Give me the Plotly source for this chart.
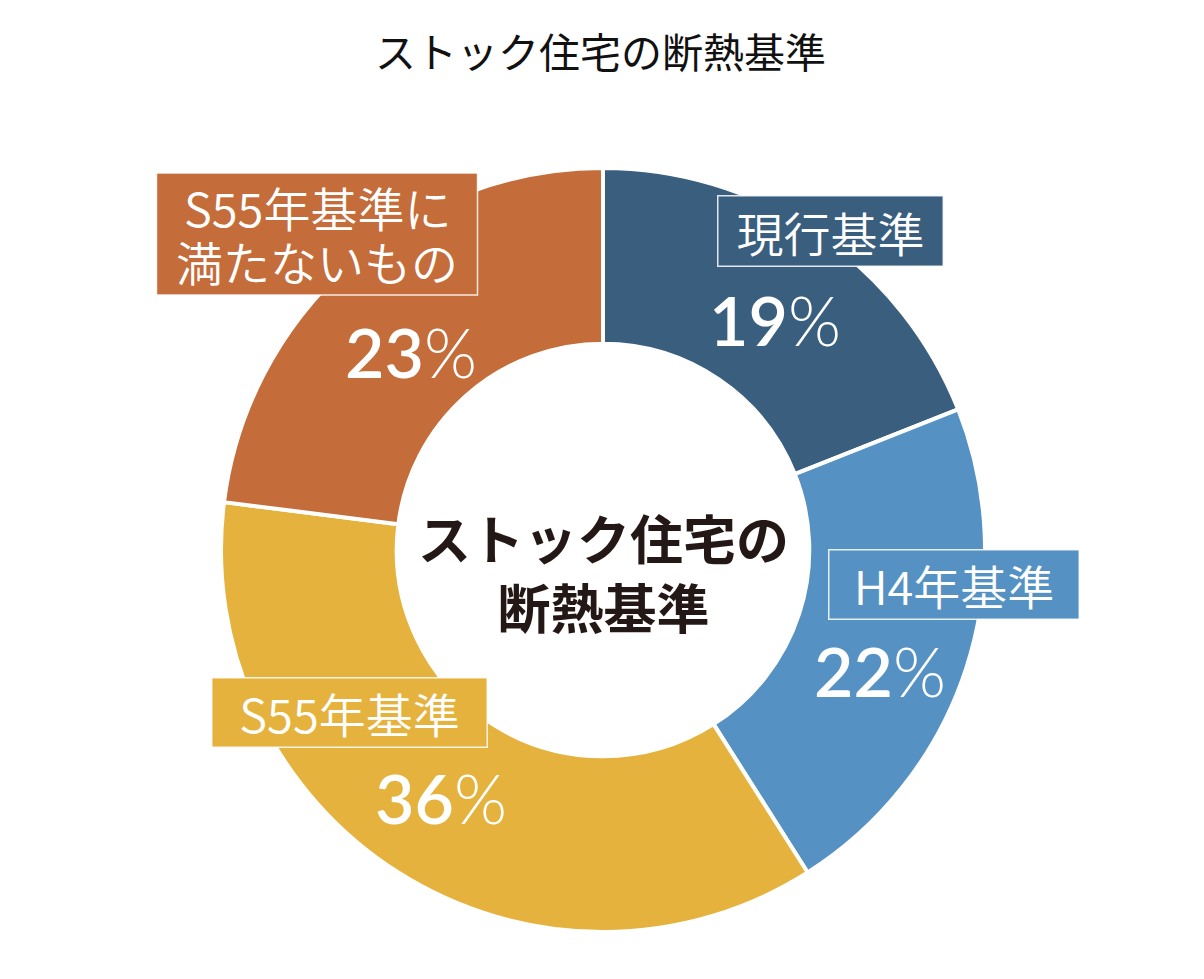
import plotly.graph_objects as go

categories = ["現行基準", "H4年基準", "S55年基準", "S55年基準に<br>満たないもの"]
values = [19, 22, 36, 23]
colors = ["#395e7e", "#5592c3", "#e5b33d", "#c46c3a"]
title_text = "ストック住宅の断熱基準"
center_text = "ストック住宅の<br>断熱基準"

W, H = 1204, 979
OFF = 8  # page body margin offset


def fx(x):
    return (x - OFF) / W


def fy(y):
    return 1 - (y - OFF) / H


cx, cy, R = 603, 550, 382

fig = go.Figure(go.Pie(
    values=values,
    labels=[c.replace("<br>", "") for c in categories],
    sort=False,
    direction="clockwise",
    rotation=0,
    hole=0.54,
    marker=dict(colors=colors, line=dict(color="white", width=4)),
    textinfo="none",
    hoverinfo="label+percent",
    showlegend=False,
    domain=dict(x=[fx(cx - R), fx(cx + R)], y=[fy(cy + R), fy(cy - R)]),
))

# label box placement (pixel centers) and box sizes
box_pos = [(830, 231, 224, 69), (954, 584, 249, 68), (350, 712, 274, 68), (317, 234, 321, 122)]
pct_pos = [(775, 319), (880, 670), (441, 797), (411, 352)]
line_gap = 54

ann = []
shapes = []
for cat, v, col, (bx, by, bw, bh), (px, py) in zip(categories, values, colors, box_pos, pct_pos):
    lines = cat.split("<br>")
    box_font = dict(family="Noto Sans CJK JP", size=47, color="white", weight=350)
    if len(lines) == 1:
        ann.append(dict(
            x=fx(bx), y=fy(by), xref="paper", yref="paper", xanchor="center", yanchor="middle",
            text=lines[0], showarrow=False, bgcolor=col,
            bordercolor="rgba(255,255,255,0.85)", borderwidth=1.5,
            borderpad=0, width=bw, height=bh, align="center", font=box_font,
        ))
    else:
        shapes.append(dict(
            type="rect", xref="paper", yref="paper", layer="above",
            x0=fx(bx - bw / 2), x1=fx(bx + bw / 2), y0=fy(by + bh / 2), y1=fy(by - bh / 2),
            fillcolor=col, line=dict(color="rgba(255,255,255,0.85)", width=1.5),
        ))
        n = len(lines)
        for i, ln in enumerate(lines):
            ly = by + (i - (n - 1) / 2) * line_gap
            ann.append(dict(
                x=fx(bx), y=fy(ly), xref="paper", yref="paper", xanchor="center", yanchor="middle",
                text=ln, showarrow=False, font=box_font,
            ))
    ann.append(dict(
        x=fx(px), y=fy(py), xref="paper", yref="paper", xanchor="center", yanchor="middle",
        text=f'{v}<span style="font-weight:300">%</span>', showarrow=False,
        font=dict(family="Lato", size=68, color="white", weight=600),
    ))

ann.append(dict(
    x=fx(cx), y=fy(571), xref="paper", yref="paper", xanchor="center", yanchor="middle",
    text=f"<b>{center_text}</b>", showarrow=False, align="center",
    font=dict(family="Noto Sans CJK JP", size=53, color="#231815"),
))
ann.append(dict(
    x=fx(600), y=fy(50), xref="paper", yref="paper", xanchor="center", yanchor="middle",
    text=title_text, showarrow=False,
    font=dict(family="Noto Sans CJK JP", size=41, color="#111111"),
))

fig.update_layout(
    width=W, height=H,
    margin=dict(l=0, r=0, t=0, b=0),
    paper_bgcolor="white", plot_bgcolor="white",
    annotations=ann,
    shapes=shapes,
)

fig.write_html("out.html")
